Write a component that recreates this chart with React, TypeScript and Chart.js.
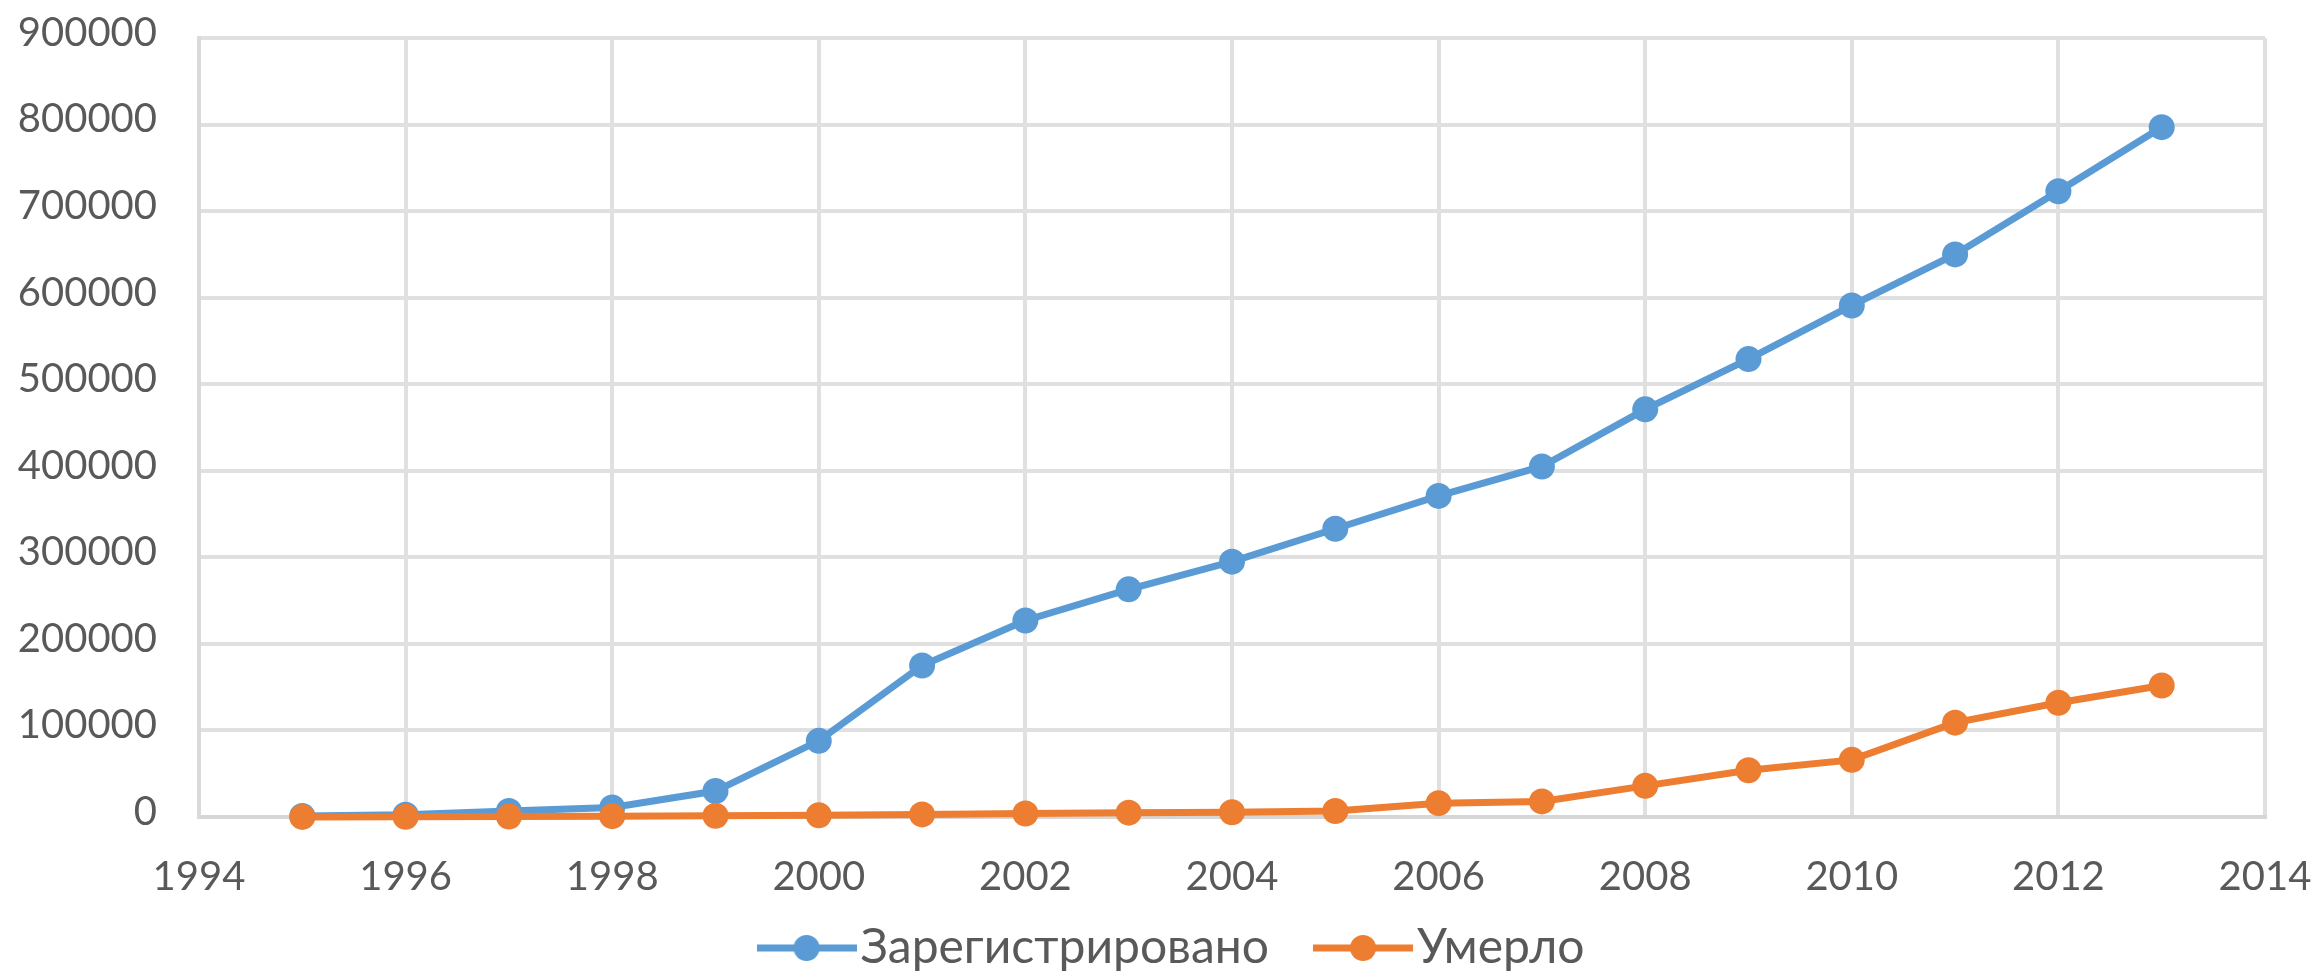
import React, { useEffect, useRef } from "react";
import { Chart, registerables } from "chart.js";

Chart.register(...registerables);

const years = [1995, 1996, 1997, 1998, 1999, 2000, 2001, 2002, 2003, 2004, 2005, 2006, 2007, 2008, 2009, 2010, 2011, 2012, 2013];
const registered = [1100, 2600, 7000, 11000, 30000, 88000, 175000, 227000, 263000, 295000, 333000, 371000, 405000, 471000, 529000, 591000, 650000, 723000, 797000];
const died = [100, 300, 600, 1000, 1500, 2000, 3000, 4000, 5000, 5500, 7000, 16000, 18000, 36000, 54000, 66000, 109000, 132000, 152000];
const seriesNames = ["Зарегистрировано", "Умерло"];
const seriesColors = ["#5B9BD5", "#ED7D31"];
const xMin = 1994;
const xMax = 2014;
const xStep = 2;
const yMin = 0;
const yMax = 900000;
const yStep = 100000;

const FONT_FAMILY = 'Lato, "Open Sans", "Noto Sans", sans-serif';
const TEXT_COLOR = "#595959";
const GRID_COLOR = "#e0e0e0";
const LINE_W = 7;
const POINT_R = 13;
const TICK_FONT_SIZE = 40;
const LEGEND_FONT_SIZE = 48;
const LEGEND_PADDING = 64;
const LEGEND_BOX_W = 60;
const LEGEND_SHIFT_X = 48;
const LEGEND_CENTER_Y = 948;

function makeLegendImage(color: string): HTMLCanvasElement {
  const c = document.createElement("canvas");
  c.width = 100;
  c.height = 30;
  const ctx = c.getContext("2d")!;
  ctx.strokeStyle = color;
  ctx.lineWidth = LINE_W;
  ctx.beginPath();
  ctx.moveTo(0, 15);
  ctx.lineTo(100, 15);
  ctx.stroke();
  ctx.fillStyle = color;
  ctx.beginPath();
  ctx.arc(50, 15, POINT_R, 0, Math.PI * 2);
  ctx.fill();
  return c;
}

const legendPlace = {
  id: "legendPlace",
  afterLayout(chart: any) {
    const l = chart.legend;
    if (l) {
      l.left += LEGEND_SHIFT_X;
      l.right += LEGEND_SHIFT_X;
      l.top = LEGEND_CENTER_Y - LEGEND_PADDING - LEGEND_FONT_SIZE / 2;
      l.bottom = chart.height;
      l.height = l.bottom - l.top;
    }
    const x = chart.scales.x;
    if (x) x.bottom = x.top + 120;
  },
};

export default function App() {
  const ref = useRef<HTMLCanvasElement | null>(null);
  useEffect(() => {
    if (!ref.current) return;
    const imgs = seriesColors.map((c) => makeLegendImage(c));
    const tickFont = { family: FONT_FAMILY, size: TICK_FONT_SIZE };
    const legendFont = { family: FONT_FAMILY, size: LEGEND_FONT_SIZE };
    const chart = new Chart(ref.current, {
      type: "line",
      data: {
        datasets: [
          {
            label: seriesNames[0],
            data: years.map((y, i) => ({ x: y, y: registered[i] })),
            borderColor: seriesColors[0],
            backgroundColor: seriesColors[0],
            borderWidth: LINE_W,
            pointRadius: POINT_R,
            pointBorderWidth: 0,
            pointBackgroundColor: seriesColors[0],
            tension: 0,
            clip: false as any,
            order: 2,
          },
          {
            label: seriesNames[1],
            data: years.map((y, i) => ({ x: y, y: died[i] })),
            borderColor: seriesColors[1],
            backgroundColor: seriesColors[1],
            borderWidth: LINE_W,
            pointRadius: POINT_R,
            pointBorderWidth: 0,
            pointBackgroundColor: seriesColors[1],
            tension: 0,
            clip: false as any,
            order: 1,
          },
        ],
      },
      options: {
        responsive: true,
        maintainAspectRatio: false,
        animation: false,
        layout: { padding: { left: 0, right: 55, top: 38, bottom: 2 } },
        plugins: {
          tooltip: { enabled: false },
          legend: {
            position: "bottom",
            maxHeight: 50,
            labels: {
              usePointStyle: true,
              pointStyleWidth: LEGEND_BOX_W,
              padding: LEGEND_PADDING,
              font: legendFont,
              color: TEXT_COLOR,
              generateLabels: () =>
                seriesNames.map((name, i) => ({
                  text: name,
                  fillStyle: seriesColors[i],
                  strokeStyle: seriesColors[i],
                  lineWidth: 0,
                  pointStyle: imgs[i] as any,
                  hidden: false,
                  datasetIndex: i,
                  fontColor: TEXT_COLOR,
                })),
            },
          },
        },
        scales: {
          x: {
            type: "linear",
            min: xMin,
            max: xMax,
            ticks: {
              stepSize: xStep,
              callback: (v: any) => String(v),
              padding: 36,
              font: tickFont,
              color: TEXT_COLOR,
              maxRotation: 0,
              autoSkip: false,
            },
            grid: { color: GRID_COLOR, lineWidth: 4, drawTicks: false },
            border: { color: "#d6d6d6", width: 4 },
            afterFit: (s: any) => {
              s.height = 105;
              s.paddingLeft = 0;
              s.paddingRight = 0;
            },
          },
          y: {
            min: yMin,
            max: yMax,
            ticks: {
              stepSize: yStep,
              callback: (v: any) => String(v),
              padding: 42,
              font: tickFont,
              color: TEXT_COLOR,
              labelOffset: -5,
            },
            grid: { color: GRID_COLOR, lineWidth: 4, drawTicks: false },
            border: { color: "#dadada", width: 4 },
            afterFit: (s: any) => {
              s.width = 199;
              s.paddingTop = 0;
              s.paddingBottom = 0;
            },
          },
        },
      },
      plugins: [legendPlace],
    });
    return () => chart.destroy();
  }, []);
  return (
    <div style={{ position: "fixed", left: 0, top: 0, width: 2320, height: 974, background: "#ffffff" }}>
      <canvas ref={ref} />
    </div>
  );
}
